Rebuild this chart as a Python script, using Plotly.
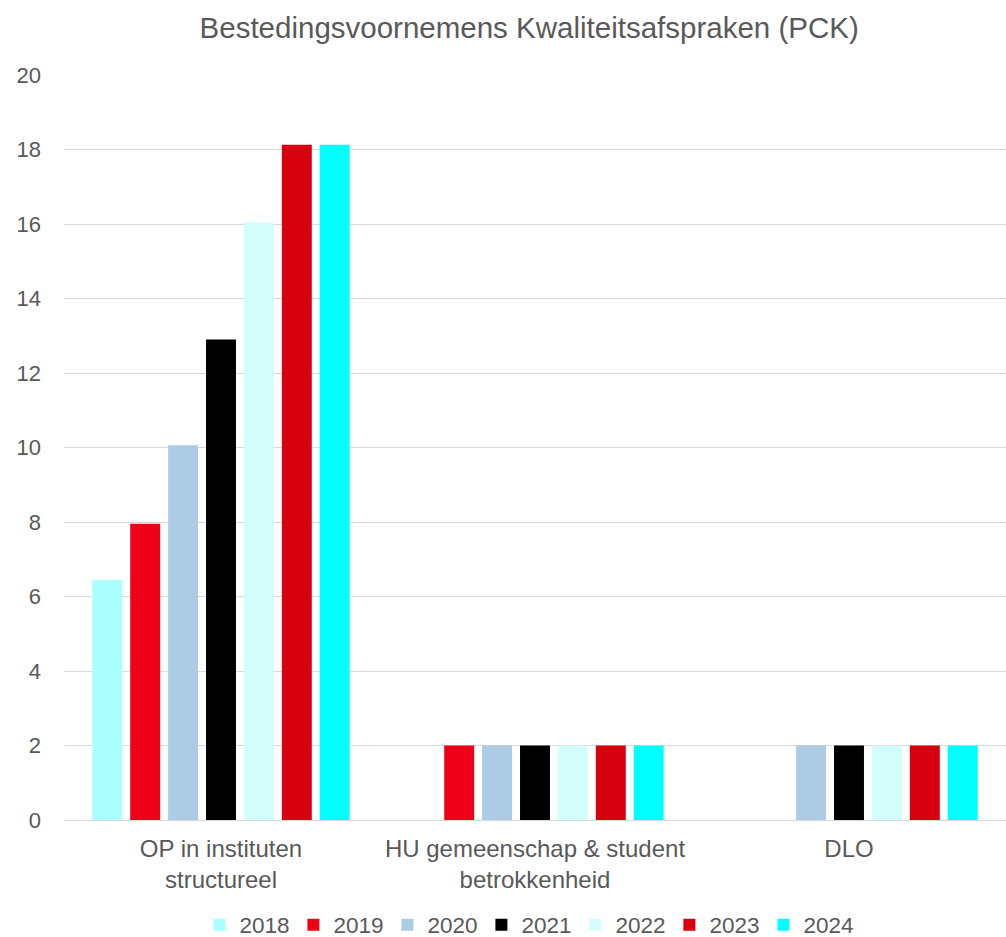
import plotly.graph_objects as go

categories = ["OP in instituten<br>structureel", "HU gemeenschap & student<br>betrokkenheid", "DLO"]
years = ["2018", "2019", "2020", "2021", "2022", "2023", "2024"]
v2018 = [6.44, None, None]
v2019 = [7.95, 2, None]
v2020 = [10.06, 2, 2]
v2021 = [12.9, 2, 2]
v2022 = [16.04, 2, 2]
v2023 = [18.13, 2, 2]
v2024 = [18.13, 2, 2]
series = [v2018, v2019, v2020, v2021, v2022, v2023, v2024]
colors = ["#AAFFFF", "#EE0018", "#ABCCE4", "#000000", "#D2FFFC", "#D7000F", "#00FFFF"]
y_ticks = [0, 2, 4, 6, 8, 10, 12, 14, 16, 18, 20]

fig = go.Figure()
for yr, vals, c in zip(years, series, colors):
    fig.add_trace(go.Bar(name=yr, x=categories, y=vals, marker=dict(color=c, line=dict(width=0))))

font_color = "#595959"
fig.update_layout(
    width=1006, height=937,
    paper_bgcolor="white", plot_bgcolor="white",
    font=dict(family="Liberation Sans, Arial, sans-serif", color=font_color, size=23),
    title=dict(text="Bestedingsvoornemens Kwaliteitsafspraken (PCK)", x=0.526, xanchor="center",
               y=0.970, yanchor="middle", font=dict(size=29.5, color=font_color)),
    margin=dict(l=64, r=0, t=75, b=117),
    barmode="group", bargap=0.155, bargroupgap=0.21,
    legend=dict(orientation="h", x=0.493, xanchor="center", yref="container", y=0.0128, yanchor="middle",
                font=dict(size=22.5, color=font_color), itemwidth=30, traceorder="normal",
                entrywidth=49, entrywidthmode="pixels"),
    xaxis=dict(showline=True, linecolor="#D9D9D9", linewidth=1, ticks="", automargin=False,
               tickfont=dict(size=24, color=font_color), ticklabelstandoff=7),
    yaxis=dict(range=[0, 20], tickvals=y_ticks, showgrid=True, gridcolor="#D9D9D9", gridwidth=1,
               zeroline=False, ticks="", automargin=False,
               tickfont=dict(size=22, color=font_color), ticklabelstandoff=22),
)
fig.write_html("out.html", config={"displayModeBar": False},
               post_script="document.body.style.margin='0px';")
